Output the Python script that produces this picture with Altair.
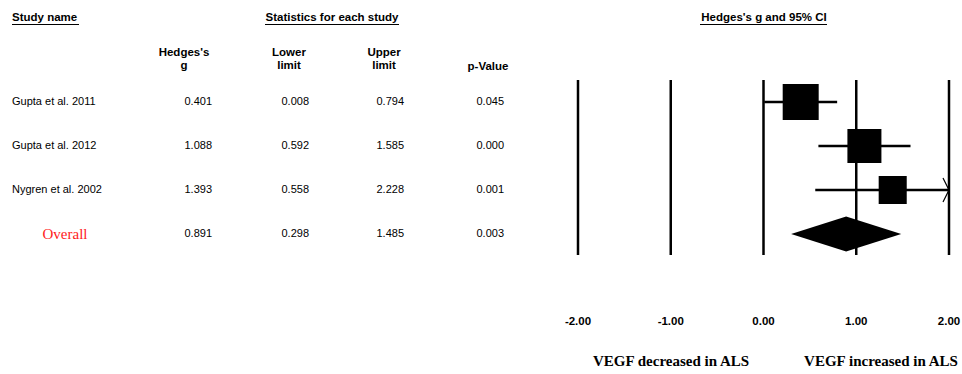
import altair as alt
import pandas as pd

# ---- study data ----
studies = ["Gupta et al. 2011", "Gupta et al. 2012", "Nygren et al. 2002"]
hedges_g = [0.401, 1.088, 1.393]
lower_limit = [0.008, 0.592, 0.558]
upper_limit = [0.794, 1.585, 2.228]
p_values = [0.045, 0.000, 0.001]
rel_weight = [40.0, 35.7, 24.3]  # relative weight (%) -> box area

# ---- pooled estimate ----
overall_label = "Overall"
overall_g = 0.891
overall_lower = 0.298
overall_upper = 1.485
overall_p = 0.003

# ---- axis ----
tick_values = [-2.0, -1.0, 0.0, 1.0, 2.0]
left_caption = "VEGF decreased in ALS"
right_caption = "VEGF increased in ALS"

SANS = "Arial, Liberation Sans, sans-serif"
SERIF = "Times New Roman, Liberation Serif, serif"

studies_df = pd.DataFrame({
    "row": list(range(len(studies))),
    "study": studies,
    "g": hedges_g,
    "lower": lower_limit,
    "upper": upper_limit,
    "p": p_values,
    "weight": rel_weight,
})
overall_row = len(studies)
table_df = pd.concat([
    studies_df[["row", "g", "lower", "upper", "p"]],
    pd.DataFrame({"row": [overall_row], "g": [overall_g], "lower": [overall_lower],
                  "upper": [overall_upper], "p": [overall_p]}),
], ignore_index=True)
diamond_df = pd.DataFrame({
    "x": [overall_lower, overall_g, overall_upper],
    "h": [0.0, 1.0, 0.0],
    "row": [overall_row] * 3,
})
ticks_df = pd.DataFrame({"tick": tick_values})

x_scale = alt.Scale(domain=[tick_values[0], tick_values[-1]], range=[578, 949])
y_scale = alt.Scale(domain=[0, overall_row], range=[102, 234])
X = lambda f: alt.X(f, type="quantitative", scale=x_scale, axis=None)
Y = lambda f: alt.Y(f, type="quantitative", scale=y_scale, axis=None)

# ---- forest plot ----
ref_lines = alt.Chart(ticks_df).mark_rule(color="black", strokeWidth=2.5).encode(
    x=X("tick"), y=alt.value(80), y2=alt.value(255)
)

ci_lines = alt.Chart(studies_df).transform_calculate(
    upper_clip=f"min(datum.upper, {tick_values[-1]})"
).mark_rule(color="black", strokeWidth=2.5).encode(
    x=X("lower"), x2="upper_clip:Q", y=Y("row")
)

arrows = alt.Chart(studies_df).transform_filter(
    f"datum.upper > {tick_values[-1]}"
).transform_calculate(
    upper_clip=f"{tick_values[-1]}"
).mark_point(
    shape="M -0.5 -1 L 0 0 L -0.5 1", filled=False, stroke="black",
    strokeWidth=1.2, size=576, opacity=1
).encode(x=X("upper_clip"), y=Y("row"))

boxes = alt.Chart(studies_df).mark_square(
    color="black", filled=True, opacity=1
).encode(
    x=X("g"), y=Y("row"),
    size=alt.Size("weight:Q", scale=alt.Scale(domain=[0, 40], range=[0, 1296]), legend=None),
)

diamond = alt.Chart(diamond_df).transform_calculate(
    y_top="datum.row - 0.4 * datum.h", y_bot="datum.row + 0.4 * datum.h"
).mark_area(color="black", opacity=1, orient="vertical").encode(
    x=X("x"), y=Y("y_top"), y2="y_bot:Q"
)

# tick labels use a plain hyphen for the minus sign
tick_labels = alt.Chart(ticks_df).transform_calculate(
    label="replace(format(datum.tick, '.2f'), '\u2212', '-')"
).mark_text(
    font=SANS, fontSize=11.5, fontWeight="bold", color="black"
).encode(x=X("tick"), y=alt.value(322), text="label:N")

caption_left = alt.Chart(pd.DataFrame({"t": [left_caption]})).mark_text(
    font=SERIF, fontSize=15, fontWeight="bold", color="black"
).encode(x=alt.value(671), y=alt.value(361), text="t:N")
caption_right = alt.Chart(pd.DataFrame({"t": [right_caption]})).mark_text(
    font=SERIF, fontSize=15, fontWeight="bold", color="black"
).encode(x=alt.value(881), y=alt.value(361), text="t:N")

# ---- table ----
names = alt.Chart(studies_df).mark_text(
    font=SANS, fontSize=11, align="left", color="black"
).encode(x=alt.value(12), y=Y("row"), text="study:N")

overall_name = alt.Chart(pd.DataFrame({"row": [overall_row], "t": [overall_label]})).mark_text(
    font=SERIF, fontSize=15, align="center", color="#ff1a1a"
).encode(x=alt.value(65), y=Y("row"), text="t:N")

value_cols = [("g", 212), ("lower", 309), ("upper", 404), ("p", 504)]
value_layers = [
    alt.Chart(table_df).mark_text(
        font=SANS, fontSize=11, align="right", color="black"
    ).encode(x=alt.value(px), y=Y("row"), text=alt.Text(f"{col}:Q", format=".3f"))
    for col, px in value_cols
]

headers_df = pd.DataFrame({
    "t": ["Study name", "Statistics for each study", "Hedges's g and 95% CI",
          "Hedges's", "g", "Lower", "limit", "Upper", "limit", "p-Value"],
    "px": [12, 332, 764, 184, 184, 289, 289, 384, 384, 488],
    "py": [18, 18, 18, 53, 66, 53, 66, 53, 66, 67],
    "al": ["left", "center", "center", "center", "center", "center", "center",
           "center", "center", "center"],
})
headers_left = alt.Chart(headers_df[headers_df.al == "left"]).mark_text(
    font=SANS, fontSize=11.5, fontWeight="bold", align="left", color="black"
).encode(x=alt.X("px:Q", scale=None, axis=None), y=alt.Y("py:Q", scale=None, axis=None), text="t:N")
headers_center = alt.Chart(headers_df[headers_df.al == "center"]).mark_text(
    font=SANS, fontSize=11.5, fontWeight="bold", align="center", color="black"
).encode(x=alt.X("px:Q", scale=None, axis=None), y=alt.Y("py:Q", scale=None, axis=None), text="t:N")

underline_df = pd.DataFrame({"x1": [12, 265, 700], "x2": [79, 399, 827]})
underlines = alt.Chart(underline_df).mark_rule(color="black", strokeWidth=1).encode(
    x=alt.X("x1:Q", scale=None, axis=None), x2="x2:Q", y=alt.value(24.5)
)

chart = alt.layer(
    ref_lines, ci_lines, arrows, boxes, diamond, tick_labels, caption_left, caption_right,
    names, overall_name, *value_layers, headers_left, headers_center, underlines,
).resolve_scale(x="independent", y="independent").properties(
    width=962, height=374, autosize=alt.AutoSizeParams(type="none"), padding=0,
    background="white",
).configure_view(stroke=None)

chart.save("out.html", embed_options={"renderer": "svg", "actions": False})
